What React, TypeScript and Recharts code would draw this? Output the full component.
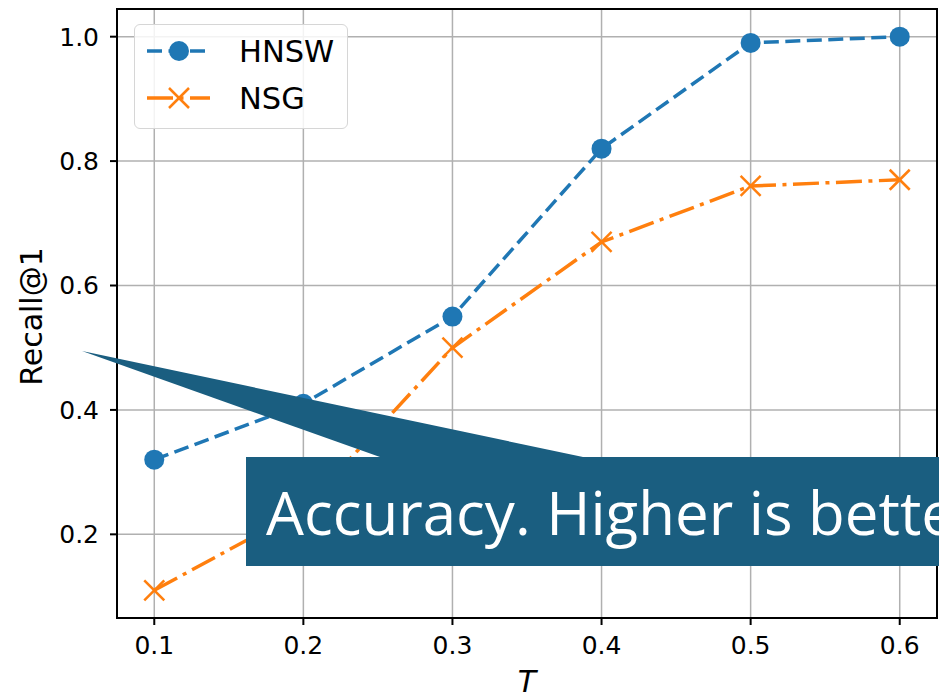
import { LineChart, Line, XAxis, YAxis, CartesianGrid, Legend, ReferenceArea } from 'recharts'

const tValues = [0.1, 0.2, 0.3, 0.4, 0.5, 0.6]
const hnswRecall = [0.32, 0.41, 0.55, 0.82, 0.99, 1.0]
const nsgRecall = [0.11, 0.24, 0.5, 0.67, 0.76, 0.77]
const xTicks = [0.1, 0.2, 0.3, 0.4, 0.5, 0.6]
const yTicks = [0.2, 0.4, 0.6, 0.8, 1.0]
const seriesNames = ['HNSW', 'NSG']
const xLabel = 'T'
const yLabel = 'Recall@1'
const calloutText = 'Accuracy. Higher is better'

const BLUE = '#1f77b4'
const ORANGE = '#ff7f0e'
const FONT = '"DejaVu Sans", sans-serif'

const data = tValues.map((t, i) => ({ t, hnsw: hnswRecall[i], nsg: nsgRecall[i] }))

// matplotlib-style 5% margins around the data
const pad = (lo: number, hi: number): [number, number] => {
  const m = (hi - lo) * 0.05
  return [lo - m, hi + m]
}
const xDomain = pad(Math.min(...tValues), Math.max(...tValues))
const allY = [...hnswRecall, ...nsgRecall]
const yDomain = pad(Math.min(...allY), Math.max(...allY))

const HNSW_DASH = '15 6.5'
const NSG_DASH = '26 6.5 4 6.5'

function CircleDot(props: any) {
  const { cx, cy, index } = props
  return <circle key={`c-${index}`} cx={cx} cy={cy} r={10} fill={BLUE} />
}

function CrossDot(props: any) {
  const { cx, cy, index } = props
  const s = 10
  return (
    <g key={`x-${index}`} stroke={ORANGE} strokeWidth={2.5}>
      <line x1={cx - s} y1={cy - s} x2={cx + s} y2={cy + s} />
      <line x1={cx - s} y1={cy + s} x2={cx + s} y2={cy - s} />
    </g>
  )
}

function LegendBox() {
  const rows = [
    { name: seriesNames[0], color: BLUE, dash: HNSW_DASH, marker: 'circle', y: 26 },
    { name: seriesNames[1], color: ORANGE, dash: NSG_DASH, marker: 'cross', y: 73 },
  ]
  return (
    <div
      style={{
        position: 'relative',
        width: 214,
        height: 105,
        boxSizing: 'border-box',
        border: '1.5px solid #d6d6d6',
        borderRadius: 6,
        background: 'rgba(255,255,255,0.85)',
      }}
    >
      <svg width={214} height={105} style={{ position: 'absolute', left: 0, top: 0 }}>
        {rows.map((r) => (
          <g key={r.name}>
            <line x1={12} x2={75} y1={r.y} y2={r.y} stroke={r.color} strokeWidth={3.5} strokeDasharray={r.dash} />
            {r.marker === 'circle' ? (
              <circle cx={44} cy={r.y} r={10} fill={r.color} />
            ) : (
              <g stroke={r.color} strokeWidth={2.5}>
                <line x1={34} y1={r.y - 10} x2={54} y2={r.y + 10} />
                <line x1={34} y1={r.y + 10} x2={54} y2={r.y - 10} />
              </g>
            )}
            <text x={104} y={r.y + 11} fontFamily={FONT} fontSize={30.5} fill="#000">
              {r.name}
            </text>
          </g>
        ))}
      </svg>
    </div>
  )
}

export default function App() {
  const tickStyle = { fill: '#000', fontSize: 25, fontFamily: FONT }
  return (
    <div style={{ position: 'absolute', left: 0, top: 0, width: 939, height: 694, overflow: 'hidden', background: '#fff' }}>
      <LineChart width={939} height={694} data={data} margin={{ top: 9, right: 2, left: 0, bottom: 0 }}>
        <CartesianGrid stroke="#b0b0b0" strokeWidth={1.5} />
        <XAxis
          dataKey="t"
          type="number"
          domain={xDomain}
          ticks={xTicks}
          allowDataOverflow
          height={76}
          tick={tickStyle}
          tickSize={7}
          tickMargin={11}
          tickFormatter={(v: number) => v.toFixed(1)}
          axisLine={{ stroke: '#000', strokeWidth: 2 }}
          tickLine={{ stroke: '#000', strokeWidth: 2 }}
          label={{ value: xLabel, position: 'insideBottom', offset: 2, fontSize: 30, fontStyle: 'italic', fill: '#000', fontFamily: FONT }}
        />
        <YAxis
          type="number"
          domain={yDomain}
          ticks={yTicks}
          allowDataOverflow
          width={117}
          tick={tickStyle}
          tickSize={7}
          tickMargin={11}
          tickFormatter={(v: number) => v.toFixed(1)}
          axisLine={{ stroke: '#000', strokeWidth: 2 }}
          tickLine={{ stroke: '#000', strokeWidth: 2 }}
          label={{
            content: (p: any) => {
              const vb = p.viewBox || { x: 0, y: 9, height: 609 }
              const cx = vb.x + 31
              const cy = vb.y + vb.height / 2 + 3
              return (
                <text
                  x={cx}
                  y={cy}
                  dy={10.5}
                  textAnchor="middle"
                  transform={`rotate(-90 ${cx} ${cy})`}
                  fontFamily={FONT}
                  fontSize={30}
                  fill="#000"
                >
                  {yLabel}
                </text>
              )
            },
          }}
        />
        <ReferenceArea
          x1={xDomain[0]}
          x2={xDomain[1]}
          y1={yDomain[0]}
          y2={yDomain[1]}
          fill="none"
          stroke="#000"
          strokeWidth={2}
          ifOverflow="visible"
        />
        <Line
          dataKey="hnsw"
          name={seriesNames[0]}
          stroke={BLUE}
          strokeWidth={3.5}
          strokeDasharray={HNSW_DASH}
          dot={CircleDot}
          activeDot={false}
          isAnimationActive={false}
        />
        <Line
          dataKey="nsg"
          name={seriesNames[1]}
          stroke={ORANGE}
          strokeWidth={3.5}
          strokeDasharray={NSG_DASH}
          dot={CrossDot}
          activeDot={false}
          isAnimationActive={false}
        />
        <Legend
          layout="horizontal"
          verticalAlign="middle"
          align="center"
          content={() => <LegendBox />}
          wrapperStyle={{ left: 134, top: 24, width: 214, height: 105 }}
        />
      </LineChart>
      <svg
        width={939}
        height={694}
        style={{ position: 'absolute', left: 0, top: 0, pointerEvents: 'none' }}
      >
        <polygon points="82,351 380,457 583,457" fill="#1a5e80" />
        <rect x={246} y={457} width={720} height={109} fill="#1a5e80" />
        <text x={266} y={535} fill="#fff" fontFamily='"Open Sans", "Noto Sans", sans-serif' fontSize={60}>
          {calloutText}
        </text>
      </svg>
    </div>
  )
}
